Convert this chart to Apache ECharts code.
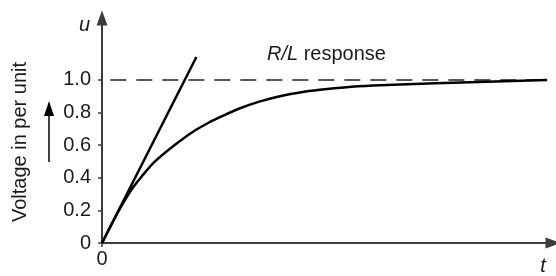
<!DOCTYPE html>
<html>
<head>
<meta charset="utf-8">
<script src="https://cdn.jsdelivr.net/npm/echarts@6/dist/echarts.min.js"></script>
<style>
  html, body { margin: 0; padding: 0; background: #fff; }
  #chart { width: 556px; height: 276px; }
</style>
</head>
<body>
<div id="chart"></div>
<script>
// time in units of the time constant
const respT = [0, 0.1, 0.2, 0.315, 0.375, 0.475, 0.635, 0.874, 1.094, 1.293, 1.413, 1.653, 1.892, 2.13, 2.37, 2.61, 2.93, 3.25, 3.57, 4.41, 5.33];
const respU = [0, 0.1, 0.197, 0.296, 0.343, 0.408, 0.5, 0.602, 0.684, 0.742, 0.772, 0.826, 0.868, 0.9, 0.923, 0.939, 0.955, 0.965, 0.972, 0.986, 1.0];
const tangentT = [0, 1.13];
const tangentU = [0, 1.14];
const finalT = [0.1, 5.35];
const finalU = [1.0, 1.0];
const yTicks = [0, 0.2, 0.4, 0.6, 0.8, 1.0];
const xTicks = [0];

const font = "'Liberation Sans', Arial, sans-serif";
const axisColor = "#3c3c3c";
const textColor = "#1a1a1a";

const pairs = (xs, ys) => xs.map((x, i) => [x, ys[i]]);

const chart = echarts.init(document.getElementById("chart"));

chart.setOption({
	animation: false,
	grid: { left: 102, right: 3, top: 17.9, bottom: 32.7 },
	xAxis: {
		type: "value",
		min: 0,
		max: 5.4,
		name: "t",
		nameLocation: "end",
		nameGap: -10,
		nameTextStyle: {
			fontFamily: font,
			fontStyle: "italic",
			fontSize: 20,
			color: textColor,
			align: "center",
			verticalAlign: "top",
			padding: [13, 0, 0, 0],
		},
		splitLine: { show: false },
		axisLine: {
			lineStyle: { color: axisColor, width: 2 },
			symbol: ["none", "triangle"],
			symbolSize: [11, 15],
		},
		axisTick: { customValues: xTicks, length: 4, lineStyle: { color: axisColor, width: 1.5 } },
		axisLabel: {
			customValues: xTicks,
			fontFamily: font,
			fontSize: 20,
			color: textColor,
			margin: 6,
		},
	},
	yAxis: {
		type: "value",
		min: 0,
		max: 1.38,
		name: "u",
		nameLocation: "end",
		nameGap: -8,
		nameTextStyle: {
			fontFamily: font,
			fontStyle: "italic",
			fontSize: 20,
			color: textColor,
			align: "right",
			verticalAlign: "middle",
			padding: [0, 12, 0, 0],
		},
		splitLine: { show: false },
		axisLine: {
			lineStyle: { color: axisColor, width: 2 },
			symbol: ["none", "triangle"],
			symbolSize: [11, 15],
		},
		axisTick: { customValues: yTicks, length: 4, lineStyle: { color: axisColor, width: 1.5 } },
		axisLabel: {
			customValues: yTicks,
			fontFamily: font,
			fontSize: 20,
			color: textColor,
			margin: 11,
			formatter: v => (v === 0 ? "0" : v.toFixed(1)),
		},
	},
	series: [
		{
			type: "line",
			data: pairs(finalT, finalU),
			symbol: "none",
			lineStyle: { color: "#222", width: 1.5, type: [16, 10] },
			z: 1,
		},
		{
			type: "line",
			data: pairs(tangentT, tangentU),
			symbol: "none",
			lineStyle: { color: "#000", width: 2.5 },
		},
		{
			type: "line",
			data: pairs(respT, respU),
			symbol: "none",
			smooth: 0.3,
			lineStyle: { color: "#000", width: 2.5 },
		},
	],
	graphic: [
		{
			type: "text",
			left: 267,
			top: 44,
			style: {
				text: "{i|R}{i|/}{i|L} response",
				font: "20px " + font,
				fill: textColor,
				rich: { i: { fontStyle: "italic", fontSize: 20, fontFamily: font } },
			},
		},
		{
			type: "text",
			x: 20,
			y: 142,
			rotation: Math.PI / 2,
			style: {
				text: "Voltage in per unit",
				font: "20px " + font,
				fill: textColor,
				align: "center",
				verticalAlign: "middle",
			},
		},
		{
			type: "line",
			shape: { x1: 49, y1: 162, x2: 49, y2: 112 },
			style: { stroke: "#000", lineWidth: 1.5 },
		},
		{
			type: "polygon",
			shape: { points: [[49, 101], [44, 116], [54, 116]] },
			style: { fill: "#000" },
		},
	],
});
</script>
</body>
</html>
